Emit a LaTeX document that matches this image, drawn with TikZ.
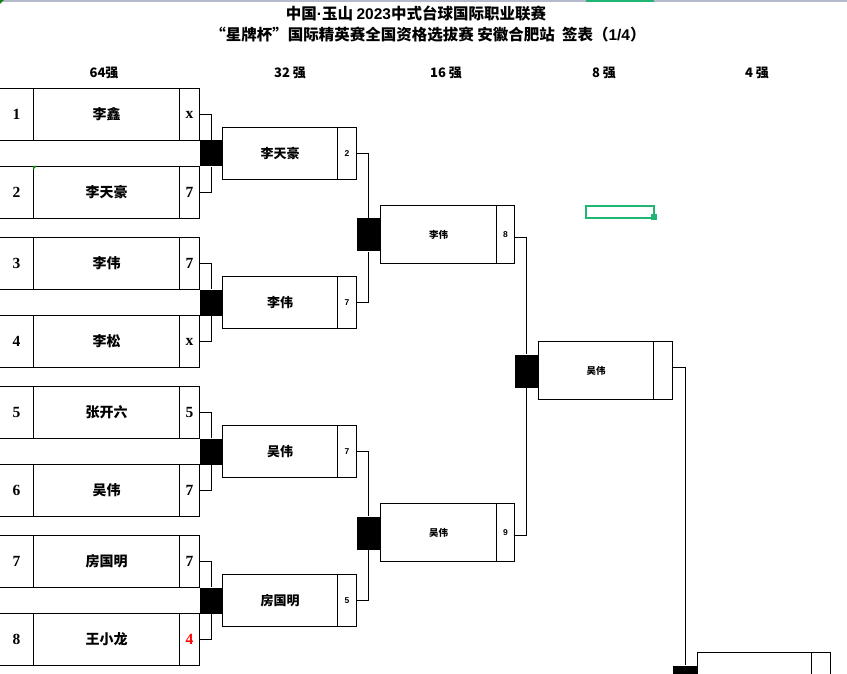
\documentclass[tikz,border=0pt]{standalone}
\usepackage{fontspec}
\setmainfont{Liberation Sans}
\newfontfamily\cjk{Noto Sans CJK SC}
\newfontfamily\serifnum{Liberation Serif}
\definecolor{selgreen}{RGB}{33,181,115}
\definecolor{hdrgray}{RGB}{180,186,203}
\definecolor{tri}{RGB}{20,130,20}
\begin{document}
\begin{tikzpicture}[x=1pt,y=-1pt,line width=1pt,
  cell/.style={draw,inner sep=0pt,anchor=north west,minimum height=52pt},
  blk/.style={fill=black,draw=none,inner sep=0pt,anchor=north west},
  wire/.style={draw,line width=1pt},
  seedtxt/.style={font=\serifnum\bfseries\fontsize{15.5}{15.5}\selectfont},
  nametxt/.style={font=\cjk\bfseries\fontsize{14}{14}\selectfont},
  scoretxt/.style={font=\serifnum\bfseries\fontsize{15.5}{15.5}\selectfont},
  hdr/.style={font=\cjk\bfseries\fontsize{13}{13}\selectfont,inner sep=0pt},
  ttl/.style={font=\cjk\bfseries\fontsize{15.5}{16}\selectfont,inner sep=0pt},
]
\useasboundingbox (0,0) rectangle (847,674);
% sheet header line
\fill[hdrgray] (0,0) rectangle (847,1.6);
\fill[selgreen] (586,0) rectangle (654,1.8);
\fill[tri] (0,0) -- (4,0) -- (0,4) -- cycle;
% titles
\node[ttl] (t1) at (416,14) {中国{\rmfamily\bfseries ·}玉山 {\rmfamily\bfseries 2023}中式台球国际职业联赛};
\node[ttl] (t2) at (428,35) {“星牌杯”国际精英赛全国资格选拔赛 安徽合肥站\ \ 签表（{\rmfamily\bfseries 1/4}）};
% round headers
\node[hdr] (h64) at (104,73) {64强};
\node[hdr] (h32) at (290,73) {32 强};
\node[hdr] (h16) at (446,73) {16 强};
\node[hdr] (h8) at (604,73) {8 强};
\node[hdr] (h4) at (757,73) {4 强};
% round of 64
\foreach \i/\nm/\sc/\col in {1/李鑫/x/black,2/李天豪/7/black,3/李伟/7/black,4/李松/x/black,5/张开六/5/black,6/吴伟/7/black,7/房国明/7/black,8/王小龙/4/red}{
  \pgfmathtruncatemacro{\g}{(\i-1)/2}
  \pgfmathtruncatemacro{\r}{mod(\i-1,2)}
  \pgfmathsetmacro{\yy}{88+149*\g+78*\r}
  \node[cell,minimum width=34pt,seedtxt] (sd\i) at (-1,\yy) {\i};
  \node[cell,minimum width=146pt,nametxt] (nm\i) at (33,\yy) {\nm};
  \node[cell,minimum width=20pt,scoretxt,text=\col] (sc\i) at (179,\yy) {\sc};
}
\fill[tri] (33,166) -- (37,166) -- (33,170) -- cycle;
% join boxes 64 -> 32
\foreach \g in {1,...,4}{
  \pgfmathsetmacro{\yy}{88+149*(\g-1)+52}
  \node[blk,minimum width=23pt,minimum height=26pt] (ka\g) at (199,\yy) {};
}
\foreach \g/\a/\b in {1/1/2,2/3/4,3/5/6,4/7/8}{
  \draw[wire] (sc\a.east) -| (ka\g.north);
  \draw[wire] (sc\b.east) -| (ka\g.south);
}
% round of 32
\foreach \g/\nm/\sc in {1/李天豪/2,2/李伟/7,3/吴伟/7,4/房国明/5}{
  \pgfmathsetmacro{\yy}{88+149*(\g-1)+39}
  \node[cell,minimum width=115pt,font=\cjk\bfseries\fontsize{13}{13}\selectfont] (rn\g) at (222,\yy) {\nm};
  \node[cell,minimum width=19pt,font=\bfseries\fontsize{8.5}{9}\selectfont] (rc\g) at (337,\yy) {\sc};
}
% join boxes 32 -> 16
\node[blk,minimum width=24pt,minimum height=33pt] (kb1) at (356,218) {};
\node[blk,minimum width=24pt,minimum height=33pt] (kb2) at (356,516) {};
\draw[wire] (rc1.east) -| (kb1.north);
\draw[wire] (rc2.east) -| (kb1.south);
\draw[wire] (rc3.east) -| (kb2.north);
\draw[wire] (rc4.east) -| (kb2.south);
% round of 16
\node[cell,minimum width=116pt,minimum height=58pt,font=\cjk\bfseries\fontsize{9.5}{10}\selectfont] (sn1) at (380,205) {李伟};
\node[cell,minimum width=18pt,minimum height=58pt,font=\bfseries\fontsize{8.5}{9}\selectfont] (sc1x) at (496,205) {8};
\node[cell,minimum width=116pt,minimum height=58pt,font=\cjk\bfseries\fontsize{9.5}{10}\selectfont] (sn2) at (380,503) {吴伟};
\node[cell,minimum width=18pt,minimum height=58pt,font=\bfseries\fontsize{8.5}{9}\selectfont] (sc2x) at (496,503) {9};
% join box 16 -> 8
\node[blk,minimum width=24pt,minimum height=33pt] (kc1) at (514,354) {};
\draw[wire] ([yshift=-3pt]sc1x.east) -| (kc1.north);
\draw[wire] ([yshift=-3pt]sc2x.east) -| (kc1.south);
% quarter final (8)
\node[cell,minimum width=115pt,minimum height=58pt,font=\cjk\bfseries\fontsize{9.5}{10}\selectfont] (en1) at (538,341) {吴伟};
\node[cell,minimum width=19pt,minimum height=58pt] (ec1) at (653,341) {};
% join box 8 -> 4
\node[blk,minimum width=25pt,minimum height=20pt] (kd1) at (672,665) {};
\draw[wire] ([yshift=3pt]ec1.east) -| (kd1.north);
% semi final (4), cut by the page edge
\node[cell,minimum width=114pt,minimum height=52pt] (fn1) at (697,652) {};
\node[cell,minimum width=19pt,minimum height=52pt] (fc1) at (811,652) {};
% selected cell
\draw[selgreen,line width=2pt] (586,206) rectangle (654,218);
\fill[selgreen] (650.5,214.5) rectangle (656.5,220.5);
\end{tikzpicture}
\end{document}
